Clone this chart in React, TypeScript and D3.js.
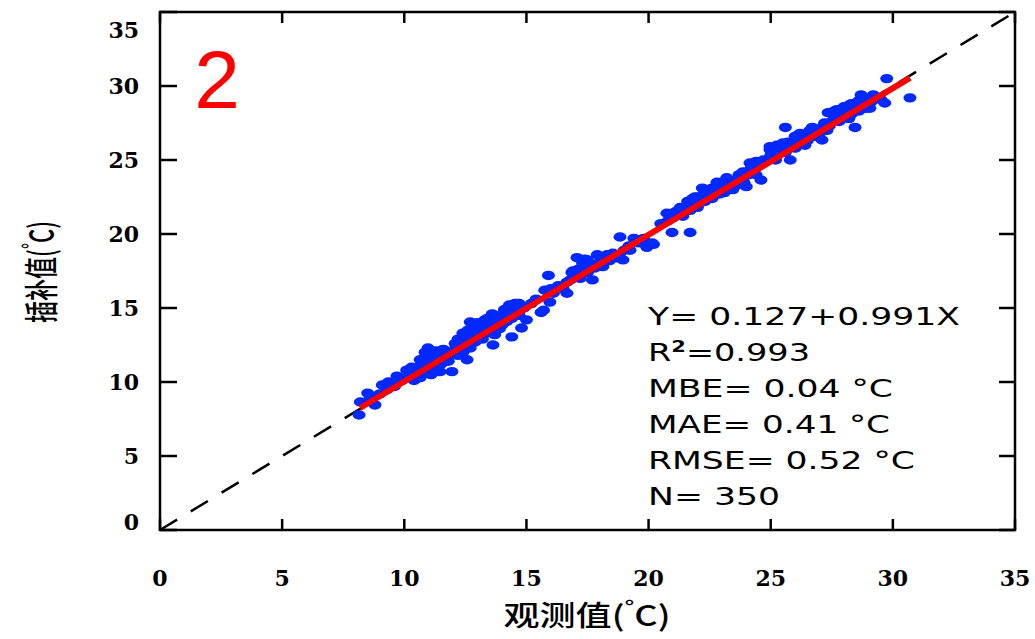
import React from "react";
import * as d3 from "d3";

const pointsLow: [number, number][] = [
  [8.15, 7.77], [8.2, 8.65], [8.5, 9.25], [8.8, 8.45], [8.6, 8.9], [9.0, 9.2],
  [9.1, 9.8], [9.3, 9.5], [9.35, 10.0], [9.5, 9.9], [9.6, 9.7], [9.7, 10.4],
  [9.9, 10.1], [10.0, 10.2], [10.1, 10.8], [10.2, 10.4], [10.3, 11.0], [10.4, 10.1],
  [10.5, 10.7], [10.65, 10.3], [10.65, 11.5], [10.7, 11.2], [10.8, 10.6], [10.85, 12.0],
  [10.9, 11.0], [10.97, 12.3], [11.0, 11.5], [11.0, 11.9], [11.1, 10.5], [11.2, 11.3],
  [11.25, 12.0], [11.3, 10.9], [11.3, 12.1], [11.4, 11.6], [11.46, 10.7], [11.5, 11.9],
  [11.5, 11.2], [11.6, 12.2], [11.67, 11.7], [11.8, 11.4], [11.9, 12.0], [11.95, 10.7],
  [12.0, 11.9], [12.08, 12.6], [12.1, 12.3], [12.2, 11.8], [12.2, 12.9], [12.3, 12.2],
  [12.4, 12.8], [12.4, 12.0], [12.4, 13.3], [12.5, 12.5], [12.57, 11.5], [12.6, 13.5],
  [12.7, 14.05], [12.7, 12.3], [12.8, 13.0], [12.9, 12.7], [12.9, 13.5], [13.0, 13.7],
  [13.0, 14.0], [13.1, 13.4], [13.1, 13.9], [13.2, 12.9], [13.2, 13.1], [13.3, 13.3],
  [13.3, 14.2], [13.4, 13.6], [13.4, 14.3], [13.5, 13.9], [13.6, 14.3], [13.6, 14.6],
  [13.63, 12.5], [13.7, 13.2], [13.7, 14.0], [13.8, 14.0], [13.9, 13.6], [13.9, 14.5],
  [14.0, 13.85], [14.0, 14.4], [14.1, 14.9], [14.2, 14.1], [14.2, 14.8], [14.3, 14.6],
  [14.3, 15.2], [14.4, 13.05], [14.4, 14.3], [14.5, 14.7], [14.53, 15.3], [14.6, 14.9],
  [14.6, 15.3], [14.7, 14.5], [14.7, 15.3], [14.8, 13.65], [14.9, 15.0],
];

const pointsMid: [number, number][] = [
  [15.0, 14.2], [15.2, 15.3], [15.4, 15.6], [15.6, 14.7], [15.7, 14.85], [15.75, 16.2],
  [15.9, 17.2], [15.96, 15.4], [16.0, 16.3], [16.1, 16.0], [16.3, 16.5], [16.5, 16.3],
  [16.66, 16.75], [16.66, 16.0], [16.8, 16.9], [16.86, 17.4], [16.9, 17.5], [17.0, 17.3],
  [17.07, 18.4], [17.1, 17.6], [17.2, 17.0], [17.3, 17.6], [17.3, 18.0], [17.4, 18.3],
  [17.5, 17.4], [17.5, 18.25], [17.6, 17.9], [17.7, 16.9], [17.8, 17.7], [17.9, 18.6],
  [18.0, 18.1], [18.13, 17.8], [18.2, 18.3], [18.3, 18.6], [18.4, 18.2], [18.54, 18.7],
  [18.6, 18.5], [18.7, 18.4], [18.8, 18.6], [18.83, 19.8], [18.95, 18.25], [19.0, 18.9],
  [19.2, 19.2], [19.24, 18.9], [19.4, 19.7], [19.5, 19.6], [19.6, 19.4], [19.8, 19.7],
  [19.93, 19.1], [20.14, 19.4], [20.2, 19.3], [20.5, 20.7], [20.75, 21.4], [20.8, 20.9],
  [20.96, 20.1], [21.0, 21.1], [21.1, 21.5], [21.2, 21.3], [21.3, 21.8], [21.4, 21.2],
  [21.5, 21.7], [21.6, 21.6], [21.6, 22.2], [21.7, 20.1], [21.7, 21.6], [21.8, 22.4],
  [21.9, 22.0], [21.9, 22.5], [22.0, 21.8], [22.0, 22.5], [22.1, 22.3], [22.2, 23.1],
  [22.3, 22.2], [22.3, 22.8], [22.4, 22.6], [22.5, 23.0], [22.6, 22.4], [22.6, 23.1],
  [22.7, 22.9], [22.8, 23.5], [22.9, 22.7], [23.0, 23.1], [23.0, 23.5], [23.1, 22.8],
  [23.2, 23.8], [23.2, 23.4], [23.3, 23.3], [23.45, 23.0], [23.5, 23.6], [23.6, 23.3],
  [23.7, 24.0], [23.8, 23.7], [23.87, 24.2], [23.9, 23.5], [24.0, 23.2], [24.1, 24.0],
  [24.15, 24.8], [24.2, 24.5], [24.3, 24.3], [24.4, 24.0], [24.4, 24.9], [24.5, 24.6],
  [24.6, 23.65], [24.7, 25.0],
];

const pointsHigh: [number, number][] = [
  [24.97, 25.7], [24.97, 25.9], [25.0, 25.3], [25.2, 25.0], [25.25, 26.0], [25.3, 25.9],
  [25.4, 25.6], [25.5, 26.15], [25.6, 25.5], [25.6, 27.2], [25.7, 26.2], [25.8, 25.0],
  [25.8, 25.9], [26.0, 25.8], [26.0, 26.6], [26.07, 26.15], [26.2, 26.2], [26.2, 26.8],
  [26.3, 26.5], [26.4, 26.0], [26.5, 26.3], [26.6, 26.7], [26.6, 27.0], [26.7, 27.2],
  [26.8, 26.6], [26.9, 27.0], [27.0, 26.8], [27.1, 26.35], [27.1, 27.2], [27.2, 27.5],
  [27.3, 27.0], [27.35, 28.2], [27.4, 27.3], [27.5, 27.6], [27.6, 27.9], [27.6, 28.3],
  [27.7, 28.4], [27.8, 27.6], [28.0, 28.1], [28.0, 28.6], [28.1, 28.3], [28.2, 28.7],
  [28.2, 27.8], [28.3, 28.1], [28.3, 28.8], [28.4, 28.5], [28.45, 27.2], [28.5, 28.7],
  [28.6, 28.3], [28.6, 29.0], [28.7, 29.4], [28.8, 28.8], [28.9, 29.1], [28.9, 28.5],
  [29.06, 28.5], [29.1, 28.9], [29.2, 29.4], [29.3, 29.2], [29.5, 29.1], [29.67, 28.85],
  [29.75, 30.5], [30.7, 29.2],
];

const points = [...pointsLow, ...pointsMid, ...pointsHigh];

const ticks = [0, 5, 10, 15, 20, 25, 30, 35];
const fitIntercept = 0.127;
const fitSlope = 0.991;
const fitRange = [8.19, 30.7];
const statLines = [
  { text: "Y= 0.127+0.991X", len: 312 },
  { text: "R", sup: "2", rest: "=0.993", len: 162 },
  { text: "MBE= 0.04 °C", len: 245 },
  { text: "MAE= 0.41 °C", len: 242 },
  { text: "RMSE= 0.52 °C", len: 267 },
  { text: "N= 350", len: 132 },
];
const panelLabel = "2";

const W = 1035;
const H = 639;
const left = 160, right = 1015, top = 12, bottom = 530;

export default function App() {
  const x = d3.scaleLinear().domain([0, 35]).range([left, right]);
  const y = d3.scaleLinear().domain([0, 35]).range([bottom, top]);
  const tickFont = "'DejaVu Serif', serif";
  const cjk = "'Noto Sans CJK SC', sans-serif";

  return (
    <svg
      width={W}
      height={H}
      style={{ position: "absolute", left: 0, top: 0, background: "#fff" }}
    >
      {/* 1:1 line */}
      <line
        x1={x(0)} y1={y(0)} x2={x(35)} y2={y(35)}
        stroke="#000" strokeWidth={2.5} strokeDasharray="20 16"
      />
      {/* points */}
      <g fill="#0028ff">
        {points.map((p, i) => (
          <ellipse key={i} cx={x(p[0])} cy={y(p[1])} rx={6.5} ry={4.7} />
        ))}
      </g>
      {/* regression line */}
      <line
        x1={x(fitRange[0])} y1={y(fitIntercept + fitSlope * fitRange[0])}
        x2={x(fitRange[1])} y2={y(fitIntercept + fitSlope * fitRange[1])}
        stroke="#ff0000" strokeWidth={6}
      />
      {/* frame */}
      <rect
        x={left} y={top} width={right - left} height={bottom - top}
        fill="none" stroke="#000" strokeWidth={2.5}
      />
      {/* ticks */}
      <g stroke="#000" strokeWidth={2.5}>
        {ticks.map((t) => (
          <g key={t}>
            <line x1={x(t)} x2={x(t)} y1={bottom} y2={bottom - 11} />
            <line x1={x(t)} x2={x(t)} y1={top} y2={top + 11} />
            <line y1={y(t)} y2={y(t)} x1={left} x2={left + 17} />
            <line y1={y(t)} y2={y(t)} x1={right} x2={right - 16} />
          </g>
        ))}
      </g>
      {/* tick labels */}
      <g fontFamily={tickFont} fontWeight="bold" fontSize={22} fill="#000">
        {ticks.map((t) => (
          <text key={"x" + t} x={x(t)} y={586} textAnchor="middle">
            {t}
          </text>
        ))}
        {ticks.map((t) => (
          <text
            key={"y" + t}
            x={139}
            y={Math.min(Math.max(y(t), 30), 522)}
            textAnchor="end"
            dominantBaseline="central"
          >
            {t}
          </text>
        ))}
      </g>
      {/* axis titles */}
      <text
        x={587} y={626} fontFamily={cjk} fontSize={28} textAnchor="middle"
        textLength={167} lengthAdjust="spacingAndGlyphs" fill="#000"
        fontWeight={500}
      >
        观测值(<tspan dy={-11} fontSize={20}>°</tspan>
        <tspan dy={11}>C)</tspan>
      </text>
      <text
        transform="translate(54,272) rotate(-90)"
        fontFamily={cjk} fontSize={34} textAnchor="middle" fontWeight={500}
        textLength={102} lengthAdjust="spacingAndGlyphs" fill="#000"
      >
        插补值(<tspan dy={-14} fontSize={24}>°</tspan>
        <tspan dy={14}>C)</tspan>
      </text>
      {/* panel number */}
      <text
        x={217} y={108} fill="#ff0000" fontSize={82} textAnchor="middle"
        fontFamily="'Liberation Sans', Arial, sans-serif"
      >
        {panelLabel}
      </text>
      {/* statistics */}
      <g fontFamily="'DejaVu Sans', sans-serif" fontSize={24} fill="#000">
        {statLines.map((s, i) => (
          <text
            key={i} x={648} y={325 + i * 36}
            textLength={s.len} lengthAdjust="spacingAndGlyphs"
          >
            {s.text}
            {s.sup ? (
              <>
                <tspan dy={-9} fontSize={15} fontWeight="bold">{s.sup}</tspan>
                <tspan dy={9}>{s.rest}</tspan>
              </>
            ) : null}
          </text>
        ))}
      </g>
    </svg>
  );
}
